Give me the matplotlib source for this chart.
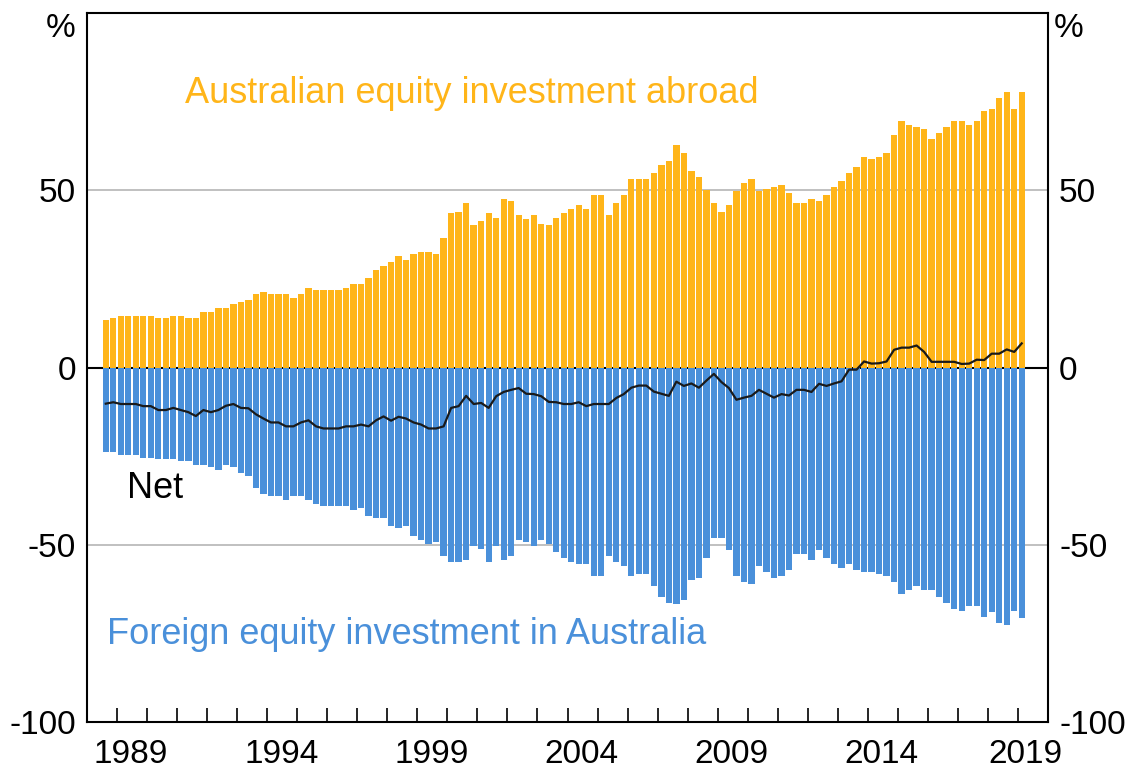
import numpy as np
import matplotlib.pyplot as plt

plt.rcParams['font.family'] = ['Liberation Sans', 'DejaVu Sans']

# Quarterly data, per cent, first bar is 1988 Q3, last is 2019 Q1
first_quarter = 1988.5
abroad = [
    13.5, 13.9, 14.5, 14.5, 14.5, 14.5, 14.5, 13.9, 13.9, 14.5,
    14.5, 13.9, 13.9, 15.6, 15.6, 16.8, 16.8, 17.9, 18.5, 19.0,
    20.7, 21.2, 20.7, 20.7, 20.7, 19.6, 20.7, 22.4, 21.8, 21.8,
    21.8, 21.8, 22.4, 23.5, 23.5, 25.2, 27.5, 28.6, 29.7, 31.4,
    30.3, 32.0, 32.6, 32.6, 32.0, 36.6, 43.5, 44.0, 46.3, 40.1,
    41.2, 43.5, 42.3, 47.4, 46.9, 42.9, 41.8, 42.9, 40.6, 40.1,
    42.3, 43.5, 44.6, 45.7, 44.6, 48.6, 48.6, 42.9, 46.3, 48.6,
    53.2, 53.2, 53.2, 54.9, 57.2, 58.3, 62.8, 60.5, 55.5, 53.8,
    50.1, 46.3, 44.0, 45.7, 49.8, 52.1, 53.2, 49.8, 50.4, 51.0,
    51.4, 49.3, 46.3, 46.3, 47.4, 46.9, 48.6, 51.0, 52.7, 54.9,
    56.6, 59.5, 58.9, 59.5, 60.6, 65.6, 69.6, 68.5, 67.9, 67.3,
    64.5, 66.2, 67.9, 69.6, 69.6, 68.5, 69.6, 72.4, 73.0, 75.9,
    77.6, 73.0, 77.6,
]
foreign = [
    -23.7, -23.7, -24.8, -24.8, -24.8, -25.4, -25.4, -25.9, -25.9, -25.9,
    -26.5, -26.5, -27.6, -27.6, -28.2, -28.8, -27.6, -28.2, -29.9, -30.5,
    -33.9, -35.6, -36.2, -36.2, -37.3, -36.2, -36.2, -37.3, -38.4, -39.0,
    -39.0, -39.0, -39.0, -40.1, -39.6, -41.8, -42.4, -42.4, -44.7, -45.3,
    -44.7, -47.5, -48.7, -49.8, -49.2, -53.2, -54.9, -54.9, -54.3, -50.4,
    -51.2, -54.9, -50.4, -54.3, -53.2, -48.7, -49.2, -50.4, -48.7, -49.8,
    -52.1, -53.8, -54.9, -55.5, -55.5, -58.9, -58.9, -53.2, -54.9, -56.1,
    -58.9, -58.3, -58.3, -61.7, -64.6, -66.3, -66.8, -65.7, -60.0, -59.5,
    -53.8, -48.1, -48.1, -51.5, -58.9, -60.6, -61.2, -56.1, -57.8, -59.5,
    -58.9, -57.2, -52.6, -52.6, -54.3, -51.5, -53.8, -55.5, -56.6, -55.5,
    -57.2, -57.8, -57.8, -58.3, -58.9, -60.6, -64.0, -62.9, -61.7, -62.9,
    -62.9, -64.6, -66.3, -68.0, -68.6, -67.4, -67.4, -70.3, -69.1, -72.0,
    -72.5, -68.6, -70.8,
]
year_labels = ['1989', '1994', '1999', '2004', '2009', '2014', '2019']

orange = '#FFB519'
blue = '#4A90DA'
fs = 24
fs_label = 26

abroad = np.array(abroad)
foreign = np.array(foreign)
net = abroad + foreign
x = first_quarter + 0.125 + 0.25 * np.arange(len(abroad))

fig = plt.figure(figsize=(11.25, 7.73), dpi=100)
ax = fig.add_axes([87 / 1125, 1 - 722 / 773, 961 / 1125, 709 / 773])

# gridlines and zero line sit behind the bars
for g in (-50, 50):
    ax.axhline(g, color='#B5B5B5', lw=1.2, zorder=0)
ax.axhline(0, color='black', lw=1.5, zorder=0.5)

ax.bar(x, abroad, width=0.21, color=orange, zorder=1)
ax.bar(x, foreign, width=0.21, color=blue, zorder=1)
ax.plot(x, net, color='#1a1a1a', lw=1.6, zorder=2)

ax.set_xlim(1988, 2020)
ax.set_ylim(-100, 100)

# year ticks inside, labels centred on the year
ax.set_xticks(np.arange(1989, 2020))
ax.set_xticklabels([])
ax.tick_params(axis='x', which='major', direction='in', length=10, width=1.2)
label_pos = [int(y) + 0.47 for y in year_labels]
label_pos[-1] = 2019.25
ax.set_xticks(label_pos, minor=True)
ax.set_xticklabels(year_labels, minor=True, fontsize=fs)
ax.tick_params(axis='x', which='minor', length=0, pad=12)

ax.set_yticks([-100, -50, 0, 50])
ax.set_yticklabels(['-100', '-50', '0', '50'], fontsize=fs)
ax.tick_params(axis='y', length=0, pad=8, labelleft=True, labelright=True)

for s in ax.spines.values():
    s.set_linewidth(1.5)

ax.text(-0.012, 1.0, '%', transform=ax.transAxes, ha='right', va='top', fontsize=fs)
ax.text(1.006, 1.0, '%', transform=ax.transAxes, ha='left', va='top', fontsize=fs)

ax.text(1991.26, 77.2, 'Australian equity investment abroad', color=orange,
        fontsize=fs_label, ha='left', va='center')
ax.text(1988.67, -75.4, 'Foreign equity investment in Australia', color=blue,
        fontsize=fs_label, ha='left', va='center')
ax.text(1989.33, -34.2, 'Net', color='black', fontsize=fs_label, ha='left', va='center')

fig.savefig('out.png', dpi=100)
